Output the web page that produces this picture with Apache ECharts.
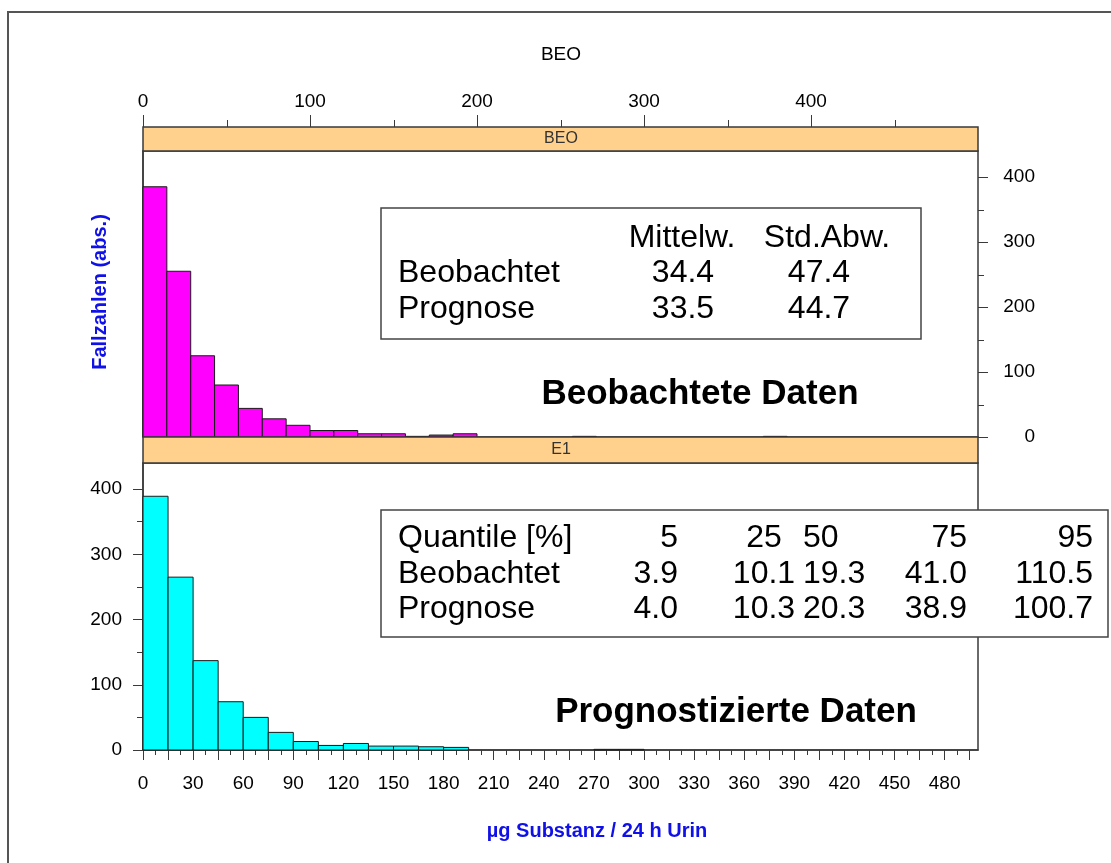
<!DOCTYPE html>
<html>
<head>
<meta charset="utf-8">
<script src="https://cdn.jsdelivr.net/npm/echarts@6/dist/echarts.min.js"></script>
<style>
  html, body { margin: 0; padding: 0; background: #fff; }
  #chart { width: 1111px; height: 863px; }
</style>
</head>
<body>
<div id="chart"></div>
<script>
// Histogram counts, observed data (bins of 500/35 units)
const observedBinWidth = 500 / 35;
const observedCounts = [385, 255, 125, 80, 44, 28, 18, 10, 10, 5, 5, 1, 3, 5,
  0, 0, 0, 0, 1, 0, 0, 0, 0, 0, 0, 0, 1];
// Histogram counts, predicted data (bins of 15 units)
const predictedBinWidth = 15;
const predictedCounts = [389, 265, 137, 74, 50, 27, 13, 7, 10, 6, 6, 5, 4,
  0, 0, 0, 0, 0, 1, 1];

// Axis tick values and labels
const topXLabels = [0, 100, 200, 300, 400];
const topXMinorTicks = [50, 150, 250, 350, 450];
const countLabels = [0, 100, 200, 300, 400];
const countMinorTicks = [50, 150, 250, 350];
const bottomXTicks = [0, 15, 30, 45, 60, 75, 90, 105, 120, 135, 150, 165, 180, 195, 210, 225, 240,
  255, 270, 285, 300, 315, 330, 345, 360, 375, 390, 405, 420, 435, 450, 465, 480, 495];
const bottomXLabels = [0, 30, 60, 90, 120, 150, 180, 210, 240, 270, 300, 330, 360, 390, 420, 450, 480];

// Summary tables
const meanHeader = ['Mittelw.', 'Std.Abw.'];
const meanRows = [
  ['Beobachtet', '34.4', '47.4'],
  ['Prognose', '33.5', '44.7']
];
const quantileHeader = ['Quantile [%]', '5', '25', '50', '75', '95'];
const quantileRows = [
  ['Beobachtet', '3.9', '10.1', '19.3', '41.0', '110.5'],
  ['Prognose', '4.0', '10.3', '20.3', '38.9', '100.7']
];

const FONT = "'Liberation Sans', Arial, sans-serif";
const AXIS_COLOR = '#3a3a3a';
const X_MAX = 500, Y_MAX = 440;
const STRIP_H = 24;

function toBins(counts, width) {
  const out = [];
  counts.forEach((c, i) => { if (c > 0) out.push([i * width, (i + 1) * width, c]); });
  return out;
}

function histRenderer(fill) {
  return function (params, api) {
    const p0 = api.coord([api.value(0), api.value(2)]);
    const p1 = api.coord([api.value(1), 0]);
    return {
      type: 'rect',
      shape: { x: p0[0], y: p0[1], width: p1[0] - p0[0], height: p1[1] - p0[1] },
      style: { fill: fill, stroke: '#1a1a1a', lineWidth: 1 }
    };
  };
}

// Tick marks for the upper panel: along the top of the strip, and on the right axis
function tickSeries(values, side, len) {
  return {
    type: 'custom', xAxisIndex: 0, yAxisIndex: 0, silent: true, clip: false, z: 8,
    data: values.map(v => [v]),
    renderItem: function (params, api) {
      const v = api.value(0);
      let x1, y1, x2, y2;
      if (side === 'top') {
        const x = Math.round(api.coord([v, 0])[0]) + 0.5;
        const y = api.coord([0, Y_MAX])[1] - STRIP_H;
        x1 = x; x2 = x; y1 = y; y2 = y - len;
      } else {
        const y = Math.round(api.coord([0, v])[1]) + 0.5;
        const x = api.coord([X_MAX, 0])[0];
        x1 = x; x2 = x + len; y1 = y; y2 = y;
      }
      return { type: 'line', shape: { x1: x1, y1: y1, x2: x2, y2: y2 }, style: { stroke: AXIS_COLOR, lineWidth: 1 } };
    }
  };
}

const chart = echarts.init(document.getElementById('chart'), null, { renderer: 'canvas' });

const GRID_L = 143, GRID_W = 835;
const TOP_Y = 151, TOP_H = 286;
const BOT_Y = 463, BOT_H = 287;

const tickLabel = { color: '#000', fontFamily: FONT, fontSize: 19 };

function tableTexts(items) {
  return items.map(t => ({
    type: 'text', x: t[1], y: t[2], z: 12,
    style: { text: t[0], fill: '#000', font: '32px ' + FONT, align: t[3], verticalAlign: 'middle' }
  }));
}

const meanCells = [
  [meanHeader[0], 682, 238, 'center'], [meanHeader[1], 827, 238, 'center'],
  [meanRows[0][0], 398, 273, 'left'], [meanRows[0][1], 683, 273, 'center'], [meanRows[0][2], 819, 273, 'center'],
  [meanRows[1][0], 398, 309, 'left'], [meanRows[1][1], 683, 309, 'center'], [meanRows[1][2], 819, 309, 'center']
];
const qRowsAll = [quantileHeader].concat(quantileRows);
const qY = [538, 574, 609];
const quantileCells = [];
qRowsAll.forEach((row, r) => {
  quantileCells.push([row[0], 398, qY[r], 'left']);
  quantileCells.push([row[1], 678, qY[r], 'right']);
  quantileCells.push([row[2], 764, qY[r], 'center']);
  quantileCells.push([row[3], 803, qY[r], 'left']);
  quantileCells.push([row[4], 967, qY[r], 'right']);
  quantileCells.push([row[5], 1093, qY[r], 'right']);
});

const option = {
  animation: false,
  backgroundColor: '#fff',
  grid: [
    { left: GRID_L, top: TOP_Y, width: GRID_W, height: TOP_H, show: true, borderColor: AXIS_COLOR, borderWidth: 1.5, backgroundColor: 'transparent' },
    { left: GRID_L, top: BOT_Y, width: GRID_W, height: BOT_H, show: true, borderColor: AXIS_COLOR, borderWidth: 1.5, backgroundColor: 'transparent' }
  ],
  xAxis: [
    {
      gridIndex: 0, type: 'value', min: 0, max: X_MAX, interval: 100,
      position: 'top', offset: STRIP_H,
      axisLine: { show: false },
      axisTick: { show: false },
      axisLabel: Object.assign({ margin: 16, customValues: topXLabels }, tickLabel),
      splitLine: { show: false }
    },
    {
      gridIndex: 1, type: 'value', min: 0, max: X_MAX, interval: 15,
      position: 'bottom',
      axisLine: { show: true, lineStyle: { color: AXIS_COLOR, width: 1.5 } },
      axisTick: { show: true, length: 10, customValues: bottomXTicks, lineStyle: { color: AXIS_COLOR, width: 1 } },
      minorTick: { show: true, splitNumber: 2, length: 5, lineStyle: { color: AXIS_COLOR, width: 1 } },
      axisLabel: Object.assign({ margin: 24, customValues: bottomXLabels }, tickLabel),
      splitLine: { show: false }
    }
  ],
  yAxis: [
    {
      gridIndex: 0, type: 'value', min: 0, max: Y_MAX, interval: 100, position: 'right',
      axisLine: { show: true, lineStyle: { color: AXIS_COLOR, width: 1.5 } },
      axisTick: { show: false },
      axisLabel: Object.assign({ margin: 57, align: 'right', customValues: countLabels }, tickLabel),
      splitLine: { show: false }
    },
    {
      gridIndex: 1, type: 'value', min: 0, max: Y_MAX, interval: 100, position: 'left',
      axisLine: { show: true, lineStyle: { color: AXIS_COLOR, width: 1.5 } },
      axisTick: { show: true, length: 10, customValues: countLabels, lineStyle: { color: AXIS_COLOR, width: 1 } },
      minorTick: { show: true, splitNumber: 2, length: 6, lineStyle: { color: AXIS_COLOR, width: 1 } },
      axisLabel: Object.assign({ margin: 21, customValues: countLabels }, tickLabel),
      splitLine: { show: false }
    }
  ],
  series: [
    {
      type: 'custom', name: 'Beobachtet', xAxisIndex: 0, yAxisIndex: 0,
      renderItem: histRenderer('#ff00ff'),
      data: toBins(observedCounts, observedBinWidth)
    },
    {
      type: 'custom', name: 'Prognose', xAxisIndex: 1, yAxisIndex: 1,
      renderItem: histRenderer('#00ffff'),
      data: toBins(predictedCounts, predictedBinWidth)
    },
    tickSeries(topXLabels, 'top', 12),
    tickSeries(topXMinorTicks, 'top', 7),
    tickSeries(countLabels, 'right', 10),
    tickSeries(countMinorTicks, 'right', 6)
  ],
  graphic: [
    // outer frame
    { type: 'rect', shape: { x: 8, y: 12, width: 1200, height: 1000 }, style: { fill: null, stroke: '#555', lineWidth: 2 }, z: 1 },
    // panel strips
    { type: 'rect', shape: { x: GRID_L, y: TOP_Y - STRIP_H, width: GRID_W, height: STRIP_H }, style: { fill: '#ffd18c', stroke: AXIS_COLOR, lineWidth: 1.5 }, z: 5 },
    { type: 'text', x: 561, y: TOP_Y - STRIP_H / 2, z: 6, style: { text: 'BEO', fill: '#333', font: '16px ' + FONT, align: 'center', verticalAlign: 'middle' } },
    { type: 'rect', shape: { x: GRID_L, y: TOP_Y + TOP_H, width: GRID_W, height: BOT_Y - TOP_Y - TOP_H }, style: { fill: '#ffd18c', stroke: AXIS_COLOR, lineWidth: 1.5 }, z: 5 },
    { type: 'text', x: 561, y: (TOP_Y + TOP_H + BOT_Y) / 2, z: 6, style: { text: 'E1', fill: '#333', font: '16px ' + FONT, align: 'center', verticalAlign: 'middle' } },
    // titles
    { type: 'text', x: 561, y: 55, z: 6, style: { text: 'BEO', fill: '#000', font: '19px ' + FONT, align: 'center', verticalAlign: 'middle' } },
    { type: 'text', x: 700, y: 394, z: 6, style: { text: 'Beobachtete Daten', fill: '#000', font: 'bold 35px ' + FONT, align: 'center', verticalAlign: 'middle' } },
    { type: 'text', x: 736, y: 712, z: 6, style: { text: 'Prognostizierte Daten', fill: '#000', font: 'bold 35px ' + FONT, align: 'center', verticalAlign: 'middle' } },
    { type: 'text', x: 100, y: 292, rotation: Math.PI / 2, z: 6, style: { text: 'Fallzahlen (abs.)', fill: '#1010e8', font: 'bold 20px ' + FONT, align: 'center', verticalAlign: 'middle' } },
    { type: 'text', x: 597, y: 831, z: 6, style: { text: 'µg Substanz / 24 h Urin', fill: '#1010e8', font: 'bold 20px ' + FONT, align: 'center', verticalAlign: 'middle' } },
    // summary boxes
    { type: 'rect', shape: { x: 381, y: 208, width: 540, height: 131 }, style: { fill: '#fff', stroke: '#444', lineWidth: 1.5 }, z: 11 },
    { type: 'rect', shape: { x: 381, y: 510, width: 727, height: 127 }, style: { fill: '#fff', stroke: '#444', lineWidth: 1.5 }, z: 11 }
  ].concat(tableTexts(meanCells)).concat(tableTexts(quantileCells))
};

chart.setOption(option);
</script>
</body>
</html>
